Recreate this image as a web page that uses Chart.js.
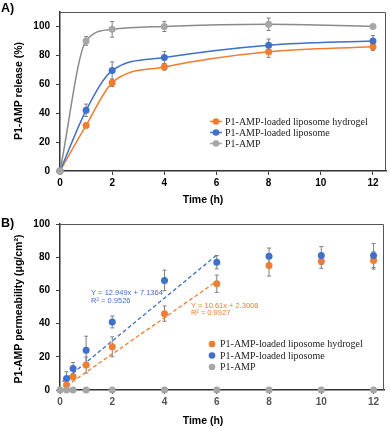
<!DOCTYPE html>
<html>
<head>
<meta charset="UTF-8">
<title>P1-AMP release and permeability</title>
<script src="https://cdn.jsdelivr.net/npm/chart.js@4.4.1/dist/chart.umd.min.js"></script>
<style>
  body { margin: 0; background: #ffffff; }
  .panel { position: relative; width: 390px; }
  #panelA { height: 212px; }
  #panelB { height: 217px; }
  canvas { display: block; }
</style>
</head>
<body>
<div class="panel" id="panelA"><canvas id="chartA" width="390" height="212"></canvas></div>
<div class="panel" id="panelB"><canvas id="chartB" width="390" height="217"></canvas></div>
<script>

const ORANGE = '#F07D32';
const BLUE = '#3F70CA';
const GRAY = '#A6A6A6';
const GRAY_LINE = '#8A8A8A';
const ERR_COLOR = '#7F7F7F';
const SANS = '"Liberation Sans", Arial, sans-serif';
const SERIF = '"Liberation Serif", "Times New Roman", serif';

const seriesNames = ['P1-AMP-loaded liposome hydrogel', 'P1-AMP-loaded liposome', 'P1-AMP'];
const timeTicks = [0, 2, 4, 6, 8, 10, 12];
const valueTicks = [0, 20, 40, 60, 80, 100];

// A) release (%)
const releaseTime = [0, 1, 2, 4, 8, 12];
const releaseHydrogel = [0, 31.5, 61, 72, 82.5, 86];
const releaseHydrogelErr = [0, 1, 2.5, 2.2, 3.9, 2.6];
const releaseLiposome = [0, 42, 69.5, 78.5, 87, 90];
const releaseLiposomeErr = [0, 4.3, 6, 4.1, 4.3, 3.7];
const releaseFree = [0, 90, 98, 100, 101.5, 100];
const releaseFreeErr = [0, 3, 5.4, 3.5, 4.3, 1];

// B) permeability (ug/cm2)
const permTime = [0, 0.25, 0.5, 1, 2, 4, 6, 8, 10, 12];
const permHydrogel = [null, 3, 8, 15, 26, 46, 64, 75, 77.5, 78];
const permHydrogelErr = [0, 1, 1.8, 4.8, 6, 4.6, 5.2, 6.4, 4.2, 5.2];
const permLiposome = [null, 7, 13, 24, 41, 66, 77, 80.5, 81, 81];
const permLiposomeErr = [0, 4, 3.6, 8.4, 3.6, 6.2, 4, 5, 5.4, 7.2];
const permFree = [0, 0, 0, 0, 0, 0, 0, 0, 0, 0];

// dashed linear fits in B
const liposomeFitX = [0.1, 6];
const liposomeFitY = [5, 81.3];
const hydrogelFitX = [0.25, 6];
const hydrogelFitY = [2.5, 65.5];
const liposomeFitText = ['Y = 12.949x + 7.1364', 'R\u00B2 = 0.9526'];
const hydrogelFitText = ['Y = 10.61x + 2.3008', 'R\u00B2 = 0.9927'];

function toPoints(xs, ys) {
  return xs.map((x, i) => ({ x: x, y: ys[i] }));
}

const errorBars = {
  id: 'errorBars',
  beforeDatasetsDraw(chart) {
    const ctx = chart.ctx;
    const yScale = chart.scales.y;
    ctx.save();
    ctx.strokeStyle = ERR_COLOR;
    ctx.lineWidth = 1;
    chart.data.datasets.forEach((ds, i) => {
      if (!ds.errors) return;
      const meta = chart.getDatasetMeta(i);
      ds.data.forEach((p, j) => {
        const err = ds.errors[j];
        if (!err || p.y == null) return;
        const px = meta.data[j].x;
        const top = yScale.getPixelForValue(p.y + err);
        const bot = yScale.getPixelForValue(p.y - err);
        ctx.beginPath();
        ctx.moveTo(px, top); ctx.lineTo(px, bot);
        ctx.moveTo(px - 2, top); ctx.lineTo(px + 2, top);
        ctx.moveTo(px - 2, bot); ctx.lineTo(px + 2, bot);
        ctx.stroke();
      });
    });
    ctx.restore();
  }
};

function makeDecor(cfg) {
  return {
    id: 'decor',
    beforeDatasetsDraw(chart) {
      const ctx = chart.ctx;
      const a = chart.chartArea;
      ctx.save();
      ctx.strokeStyle = '#555';
      ctx.lineWidth = 1;
      ctx.beginPath();
      ctx.moveTo(a.left, a.top + 0.5);
      ctx.lineTo(a.right - 0.5, a.top + 0.5);
      ctx.lineTo(a.right - 0.5, a.bottom);
      ctx.stroke();
      ctx.restore();
    },
    afterDraw(chart) {
      const ctx = chart.ctx;
      const xs = chart.scales.x;
      const ys = chart.scales.y;
      ctx.save();
      ctx.fillStyle = '#000';
      ctx.font = 'bold 12.5px ' + SANS;
      ctx.textBaseline = 'middle';
      ctx.textAlign = 'left';
      ctx.fillText(cfg.panelLabel, 1, cfg.panelLabelY);

      ctx.font = 'bold 10.5px ' + SANS;
      ctx.textAlign = 'center';
      ctx.fillText('Time (h)', 203, cfg.xTitleY);
      ctx.save();
      ctx.translate(19, cfg.yTitleY);
      ctx.rotate(-Math.PI / 2);
      ctx.fillText(cfg.yTitle, 0, 0);
      ctx.restore();

      // legend
      ctx.font = '10px ' + SERIF;
      ctx.textAlign = 'left';
      cfg.legend.forEach((item, i) => {
        const y = cfg.legendY + i * cfg.legendStep;
        const x = cfg.legendX;
        if (cfg.legendLine) {
          ctx.strokeStyle = item.color;
          ctx.lineWidth = 1.5;
          ctx.beginPath();
          ctx.moveTo(x - 6, y); ctx.lineTo(x + 6, y);
          ctx.stroke();
        }
        ctx.fillStyle = item.color;
        ctx.beginPath();
        ctx.arc(x, y, 3.3, 0, Math.PI * 2);
        ctx.fill();
        ctx.fillStyle = '#222';
        ctx.fillText(item.label, x + cfg.legendGap, y + 0.5);
      });

      // fit notes
      ctx.font = '7.5px ' + SANS;
      (cfg.notes || []).forEach(n => {
        ctx.fillStyle = n.color;
        const px = xs.getPixelForValue(n.x);
        const py = ys.getPixelForValue(n.y);
        n.lines.forEach((t, k) => ctx.fillText(t, px, py + k * 7.5));
      });
      ctx.restore();
    }
  };
}

const tickFont = { family: SANS, size: 10, weight: 'bold' };

function axisX(max, tickColor, height) {
  return {
    type: 'linear', min: 0, max: max,
    ticks: { color: tickColor, font: tickFont, padding: 2, maxRotation: 0 },
    afterBuildTicks: s => { s.ticks = timeTicks.map(v => ({ value: v })); },
    afterFit: s => { s.height = height; },
    grid: { drawOnChartArea: false, drawTicks: true, tickLength: 4, color: '#404040' },
    border: { color: '#333', width: 1.5 }
  };
}

function axisY(max) {
  return {
    type: 'linear', min: 0, max: max,
    ticks: { color: '#000', font: tickFont, padding: 6 },
    afterBuildTicks: s => { s.ticks = valueTicks.map(v => ({ value: v })); },
    afterFit: s => { s.width = 60; },
    grid: { drawOnChartArea: false, drawTicks: true, tickLength: 4, color: '#404040' },
    border: { color: '#333', width: 1.5 }
  };
}

function seriesA(label, ys, errs, color, lineColor, order) {
  return {
    label: label,
    data: toPoints(releaseTime, ys),
    errors: errs,
    borderColor: lineColor,
    backgroundColor: color,
    pointBackgroundColor: color,
    pointBorderColor: color,
    pointRadius: 3.5,
    pointBorderWidth: 0,
    borderWidth: 1.5,
    cubicInterpolationMode: 'monotone',
    order: order,
    clip: false
  };
}

var chartA = new Chart(document.getElementById('chartA'), {
  type: 'line',
  data: {
    datasets: [
      seriesA(seriesNames[0], releaseHydrogel, releaseHydrogelErr, ORANGE, ORANGE, 2),
      seriesA(seriesNames[1], releaseLiposome, releaseLiposomeErr, BLUE, BLUE, 1),
      seriesA(seriesNames[2], releaseFree, releaseFreeErr, GRAY, GRAY_LINE, 0)
    ]
  },
  options: {
    responsive: false,
    animation: false,
    devicePixelRatio: 1,
    events: [],
    layout: { padding: { top: 2, right: 2, left: 0, bottom: 0 } },
    scales: { x: axisX(12.5, '#000', 41), y: axisY(110) },
    plugins: { legend: { display: false }, tooltip: { enabled: false } }
  },
  plugins: [errorBars, makeDecor({
    panelLabel: 'A)', panelLabelY: 9,
    yTitle: 'P1-AMP release (%)', yTitleY: 91, xTitleY: 200,
    legend: [
      { label: seriesNames[0], color: ORANGE },
      { label: seriesNames[1], color: BLUE },
      { label: seriesNames[2], color: GRAY }
    ],
    legendLine: true, legendX: 216, legendY: 121.5, legendStep: 11, legendGap: 9
  })]
});

function seriesB(label, ys, errs, color, order) {
  return {
    label: label,
    data: toPoints(permTime, ys),
    errors: errs,
    showLine: false,
    backgroundColor: color,
    pointBackgroundColor: color,
    pointBorderColor: color,
    pointRadius: 3.5,
    pointBorderWidth: 0,
    order: order,
    clip: false
  };
}

function fitLine(xs, ys, color) {
  return {
    data: toPoints(xs, ys),
    borderColor: color,
    borderWidth: 1.3,
    borderDash: [4, 2.5],
    pointRadius: 0,
    order: 5,
    clip: false
  };
}

var chartB = new Chart(document.getElementById('chartB'), {
  type: 'line',
  data: {
    datasets: [
      seriesB(seriesNames[0], permHydrogel, permHydrogelErr, ORANGE, 2),
      seriesB(seriesNames[1], permLiposome, permLiposomeErr, BLUE, 1),
      seriesB(seriesNames[2], permFree, null, GRAY, 0),
      fitLine(liposomeFitX, liposomeFitY, BLUE),
      fitLine(hydrogelFitX, hydrogelFitY, ORANGE)
    ]
  },
  options: {
    responsive: false,
    animation: false,
    devicePixelRatio: 1,
    events: [],
    layout: { padding: { top: 12, right: 6, left: 0, bottom: 0 } },
    scales: { x: axisX(12.4, '#555', 39), y: axisY(100) },
    plugins: { legend: { display: false }, tooltip: { enabled: false } }
  },
  plugins: [errorBars, makeDecor({
    panelLabel: 'B)', panelLabelY: 12,
    yTitle: 'P1-AMP permeability (\u03BCg/cm\u00B2)', yTitleY: 97, xTitleY: 209.5,
    legend: [
      { label: seriesNames[0], color: ORANGE },
      { label: seriesNames[1], color: BLUE },
      { label: seriesNames[2], color: GRAY }
    ],
    legendLine: false, legendX: 212, legendY: 132, legendStep: 11.5, legendGap: 8,
    notes: [
      { x: 1.19, y: 58.2, lines: liposomeFitText, color: BLUE },
      { x: 5.01, y: 50.7, lines: hydrogelFitText, color: ORANGE }
    ]
  })]
});
</script>
</body>
</html>
